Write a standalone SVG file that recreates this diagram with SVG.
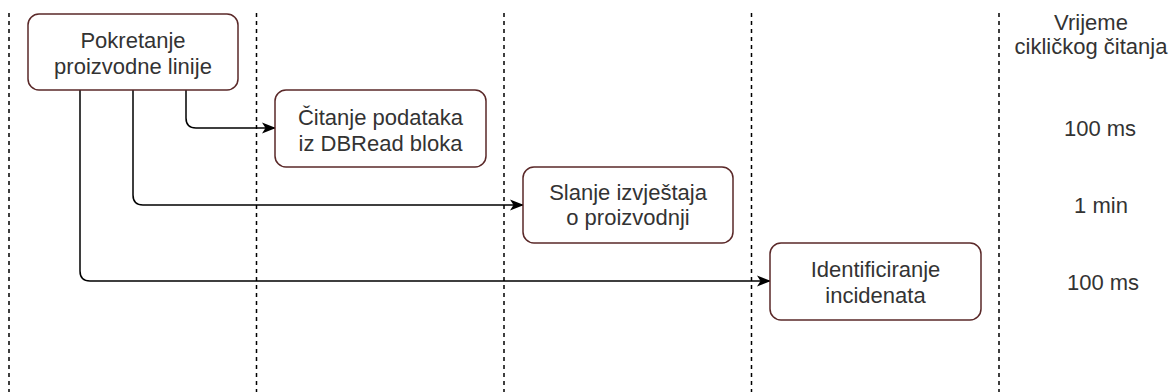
<svg xmlns="http://www.w3.org/2000/svg" width="1169" height="392" viewBox="0 0 1169 392">
<style>
.node{fill:#ffffff;stroke:#5a2828;stroke-width:1.5}
.t{font-family:"Liberation Sans",Arial,sans-serif;font-size:22px;fill:#333333;text-anchor:middle}
.lane{stroke:#000000;stroke-width:1.5;stroke-dasharray:4,4;fill:none}
.edge{stroke:#000000;stroke-width:1.5;fill:none}
</style>
<defs>
<marker id="arr" viewBox="0 0 14 12" refX="13" refY="6" markerWidth="14" markerHeight="12" markerUnits="userSpaceOnUse" orient="auto">
<path d="M0,0.5 L14,6 L0,11.5 L3.5,6 Z" fill="#000000"/>
</marker>
</defs>
<rect width="1169" height="392" fill="#ffffff"/>
<g id="lanes">
<line class="lane" x1="9" y1="13" x2="9" y2="392"/>
<line class="lane" x1="256.5" y1="13" x2="256.5" y2="392"/>
<line class="lane" x1="504" y1="13" x2="504" y2="392"/>
<line class="lane" x1="751.5" y1="13" x2="751.5" y2="392"/>
<line class="lane" x1="999" y1="13" x2="999" y2="392"/>
</g>
<g id="connectors">
<path class="edge" d="M186,90 V118 Q186,128 196,128 H275" marker-end="url(#arr)"/>
<path class="edge" d="M133,90 V195 Q133,205 143,205 H523" marker-end="url(#arr)"/>
<path class="edge" d="M80,90 V271 Q80,281 90,281 H770" marker-end="url(#arr)"/>
</g>
<g id="n1">
<rect class="node" x="28" y="14" width="210" height="76" rx="11"/>
<text class="t" x="133" y="48">Pokretanje</text>
<text class="t" x="133" y="73.5">proizvodne linije</text>
</g>
<g id="n2">
<rect class="node" x="275" y="90" width="211" height="77" rx="11"/>
<text class="t" x="380.5" y="125">Čitanje podataka</text>
<text class="t" x="380.5" y="151">iz DBRead bloka</text>
</g>
<g id="n3">
<rect class="node" x="523" y="167" width="210" height="76" rx="11"/>
<text class="t" x="628" y="199.5">Slanje izvještaja</text>
<text class="t" x="628" y="225">o proizvodnji</text>
</g>
<g id="n4">
<rect class="node" x="770" y="243" width="211" height="77" rx="11"/>
<text class="t" x="875.5" y="277">Identificiranje</text>
<text class="t" x="875.5" y="302.5">incidenata</text>
</g>
<g id="times">
<text class="t" x="1091" y="30">Vrijeme</text>
<text class="t" x="1091" y="54">cikličkog čitanja</text>
<text class="t" x="1100" y="136">100 ms</text>
<text class="t" x="1101" y="213">1 min</text>
<text class="t" x="1103" y="290">100 ms</text>
</g>
</svg>
